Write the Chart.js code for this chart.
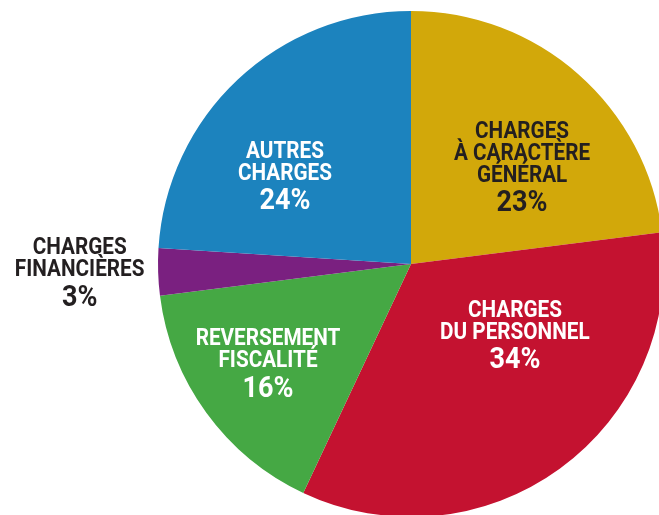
<!DOCTYPE html>
<html>
<head>
<meta charset="utf-8">
<script src="https://cdn.jsdelivr.net/npm/chart.js@4/dist/chart.umd.min.js"></script>
<style>
  html, body { margin:0; padding:0; background:#fff; overflow:hidden; width:659px; height:515px; }
  #wrap { position:absolute; left:0; top:0; }
</style>
</head>
<body>
<div id="wrap"><canvas id="pie" width="664" height="517"></canvas></div>
<script>
// slices, clockwise from 12 o'clock
const LABELS = [
  ["CHARGES", "À CARACTÈRE", "GÉNÉRAL"],
  ["CHARGES", "DU PERSONNEL"],
  ["REVERSEMENT", "FISCALITÉ"],
  ["CHARGES", "FINANCIÈRES"],
  ["AUTRES", "CHARGES"]
];
const VALUES = [23, 34, 16, 3, 24];

const COLORS = ["#D2A80A", "#C41230", "#45A844", "#7A2080", "#1C83BE"];
const TEXT_COLORS = ["#231F20", "#ffffff", "#ffffff", "#231F20", "#ffffff"];
// label anchor: fraction of radius, angle offset from slice middle (deg)
const LABEL_POS = [[0.588, 6.9], [0.493, -20.4], [0.685, 1.6], [1.31, 0.6], [0.612, -11.3]];

const FONT = "Roboto, 'DejaVu Sans Condensed', sans-serif";
const SQUEEZE = 0.9; // narrow the glyphs a bit, the original uses a condensed face
const LINE = 22, PCT_GAP = 27;

function narrowText(ctx, t, x, y) {
  ctx.save();
  ctx.translate(x, y);
  ctx.scale(SQUEEZE, 1);
  ctx.fillText(t, 0, 0);
  ctx.restore();
}

const sliceLabels = {
  id: "sliceLabels",
  afterDraw(chart) {
    const ctx = chart.ctx;
    const arcs = chart.getDatasetMeta(0).data;
    ctx.save();
    ctx.textAlign = "center";
    ctx.textBaseline = "alphabetic";
    arcs.forEach((arc, i) => {
      const p = arc.getProps(["x", "y", "startAngle", "endAngle", "outerRadius"], true);
      const ang = (p.startAngle + p.endAngle) / 2 + LABEL_POS[i][1] * Math.PI / 180;
      const r = p.outerRadius * LABEL_POS[i][0];
      const cx = p.x + Math.cos(ang) * r;
      const cy = p.y + Math.sin(ang) * r;
      const lines = LABELS[i];
      const total = (lines.length - 1) * LINE + PCT_GAP;
      let mid = cy - total / 2;
      ctx.fillStyle = TEXT_COLORS[i];
      ctx.font = "bold 23px " + FONT;
      lines.forEach((t, k) => {
        narrowText(ctx, t, cx, mid + k * LINE + 8);
      });
      const pm = mid + (lines.length - 1) * LINE + PCT_GAP;
      ctx.font = "bold 30px " + FONT;
      narrowText(ctx, VALUES[i] + "%", cx, pm + 10.5);
    });
    ctx.restore();
  }
};

new Chart(document.getElementById("pie"), {
  type: "pie",
  data: {
    labels: LABELS.map(l => l.join(" ")),
    datasets: [{
      data: VALUES,
      backgroundColor: COLORS,
      borderWidth: 0
    }]
  },
  options: {
    responsive: false,
    animation: false,
    layout: { padding: { left: 158, top: 11, right: 0, bottom: 0 } },
    plugins: {
      legend: { display: false },
      tooltip: { enabled: false }
    }
  },
  plugins: [sliceLabels]
});
</script>
</body>
</html>
